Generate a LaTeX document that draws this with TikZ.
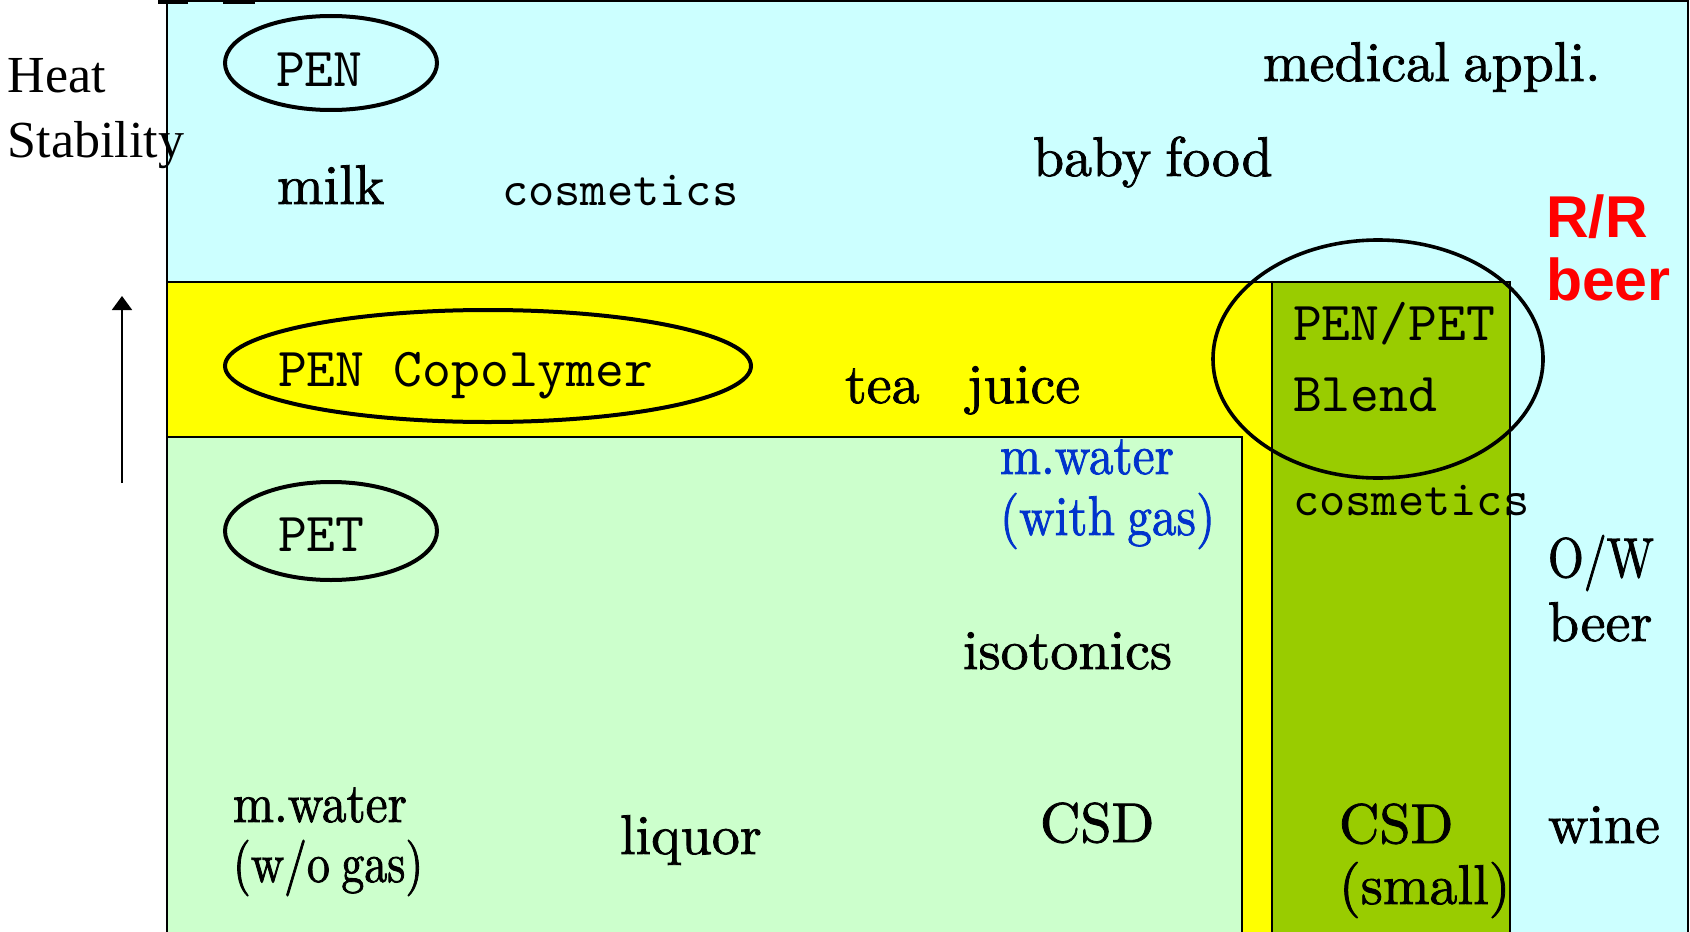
\documentclass[tikz,border=0pt]{standalone}
\usepackage{fontspec}
\usetikzlibrary{arrows.meta}
\newfontfamily\timesf{Liberation Serif}
\newfontfamily\arialf{Liberation Sans}
\newfontfamily\centf{lmroman10-regular}[Extension=.otf, FakeBold=1.4, WordSpace=0.75]
\newfontfamily\centn{lmroman10-regular}[Extension=.otf, FakeBold=1.4, WordSpace=0.75, FakeStretch=0.88]
\newfontfamily\centnn{lmroman10-regular}[Extension=.otf, FakeBold=1.4, WordSpace=0.75, FakeStretch=0.82]
\newfontfamily\monof{lmmono10-regular}[Extension=.otf]
\definecolor{skyfill}{HTML}{CCFFFF}
\definecolor{copofill}{HTML}{FFFF00}
\definecolor{petfill}{HTML}{CCFFCC}
\definecolor{blendfill}{HTML}{99CC00}
\definecolor{gasblue}{HTML}{0033CC}
\definecolor{rrred}{HTML}{FF0000}
\begin{document}
\begin{tikzpicture}[x=0.5pt,y=-0.5pt,
  region/.style={draw=black,line width=0.75pt},
  ring/.style={draw=black,line width=2pt},
  lbl/.style={anchor=base west,inner sep=0pt,outer sep=0pt},
  use/.style={lbl,font=\centf\fontsize{28pt}{34pt}\selectfont},
  usen/.style={lbl,font=\centn\fontsize{28pt}{34pt}\selectfont},
  usenn/.style={lbl,font=\centnn\fontsize{28pt}{34pt}\selectfont},
  resin/.style={lbl,font=\monof\fontsize{27.5pt}{33pt}\selectfont},
  resinsm/.style={lbl,font=\monof\fontsize{25pt}{30pt}\selectfont},
  axis/.style={lbl,font=\timesf\fontsize{26pt}{31pt}\selectfont},
  hot/.style={lbl,text=rrred,font=\arialf\bfseries\fontsize{29.5pt}{35pt}\selectfont}]
\useasboundingbox (0,0) rectangle (1690,931);
\clip (0,0) rectangle (1690,931);

% material regions
\path[region,fill=skyfill]   (167,1)   rectangle (1688,960);
\path[region,fill=copofill]  (167,282) rectangle (1272,960);
\path[region,fill=petfill]   (167,437) rectangle (1242,960);
\path[region,fill=blendfill] (1272,282) rectangle (1510,960);

% remnants of a heading above the chart
\fill (158,0) rectangle (188,4);
\fill (223,0) rectangle (255,4);

% axis
\coordinate (ax0) at (122,483);
\coordinate (ax1) at (122,296);
\draw[line width=1pt,-{Triangle[width=10pt,length=7pt]}] (ax0) -- (ax1);
\node[axis] (heat) at (8,93) {Heat};
\node[axis] (stab) at (8,157) {Stability};

% resin rings
\draw[ring] (331,63) ellipse [x radius=106, y radius=47];
\draw[ring] (488,366) ellipse [x radius=263, y radius=56];
\draw[ring] (331,531) ellipse [x radius=106, y radius=49];
\draw[draw=black,line width=1.8pt] (1378,359) ellipse [x radius=165, y radius=119];

% resin names
\node[resin] (pen)    at (276,87)  {PEN};
\node[resin] (copo)   at (278,386) {PEN Copolymer};
\node[resin] (pet)    at (278,551) {PET};
\node[resin] (blend1) at (1293,340) {PEN/PET};
\node[resin] (blend2) at (1293,411) {Blend};
\node[resinsm] (cos1) at (502,205) {cosmetics};
\node[resinsm] (cos2) at (1293,515) {cosmetics};

% applications
\node[use] (milk)  at (277,204)  {milk};
\node[use] (baby)  at (1033,176) {baby food};
\node[use] (med)   at (1263,81)  {medical appli.};
\node[hot] (rr1)   at (1546,237) {R/R};
\node[hot] (rr2)   at (1546,300) {beer};
\node[use] (tea)   at (845,403)  {tea\hspace{23.5pt}juice};
\node[usen,text=gasblue] (gas1) at (1000,474) {m.water};
\node[usen,text=gasblue] (gas2) at (1000,535) {(with gas)};
\node[use] (iso)   at (963,669)  {isotonics};
\node[usenn] (ow1) at (1548,577) {O/W};
\node[use] (ow2)   at (1548,641) {beer};
\node[usen] (mw1)  at (233,822)  {m.water};
\node[usenn] (mw2) at (233,882)  {(w/o gas)};
\node[use] (liq)   at (620,854)  {liquor};
\node[use] (csd)   at (1040,842) {CSD};
\node[use] (csds1) at (1339,843) {CSD};
\node[use] (csds2) at (1339,904) {(small)};
\node[use] (wine)  at (1548,843) {wine};
\end{tikzpicture}
\end{document}
